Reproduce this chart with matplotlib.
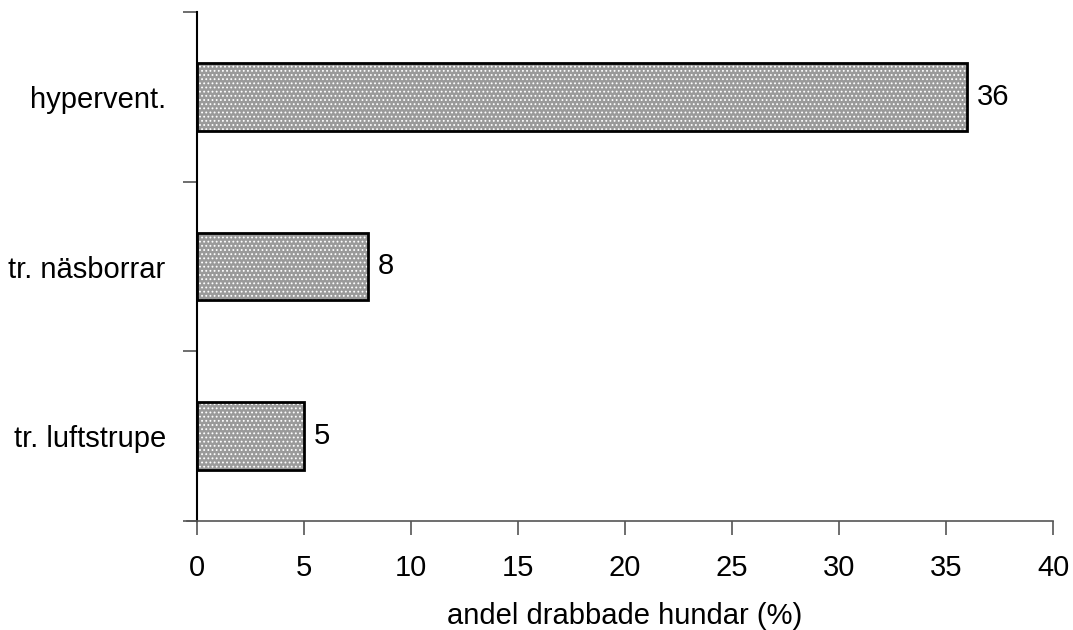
import matplotlib
matplotlib.use("Agg")
import matplotlib.pyplot as plt
import numpy as np

categories = ["hypervent.", "tr. näsborrar", "tr. luftstrupe"]
values = [36, 8, 5]
xticks = [0, 5, 10, 15, 20, 25, 30, 35, 40]
xlabel = "andel drabbade hundar (%)"

plt.rcParams['font.family'] = ['Liberation Sans', 'DejaVu Sans']
plt.rcParams['hatch.color'] = 'white'
plt.rcParams['hatch.linewidth'] = 0.8

fig = plt.figure(figsize=(10.73, 6.3), dpi=100)
ax = fig.add_axes([197/1073, 1 - 521/630, (1053-197)/1073, (521-12)/630])

y = np.arange(len(categories))
ax.barh(y, values, height=0.4, color='#9a9a9a', hatch='....', linewidth=0)
ax.barh(y, values, height=0.4, fill=False, edgecolor='black', linewidth=2)

for yi, v in zip(y, values):
    ax.text(v + 0.45, yi, str(v), va='center', ha='left', fontsize=21)

ax.set_xlim(0, 40)
ax.set_ylim(2.5, -0.5)
ax.set_xticks(xticks)
ax.set_xticklabels([str(t) for t in xticks], fontsize=21)
ax.set_yticks(y)
ax.set_yticklabels(categories, fontsize=21)
ax.tick_params(axis='y', length=0, pad=22.5)
ax.set_yticks([-0.5, 0.5, 1.5, 2.5], minor=True)
ax.tick_params(axis='y', which='minor', length=10, width=1.2, color='#555555')
ax.tick_params(axis='x', length=10, width=1.2, color='#555555', pad=14)
ax.set_xlabel(xlabel, fontsize=21, labelpad=14)

for s in ['top', 'right']:
    ax.spines[s].set_visible(False)
ax.spines['left'].set_linewidth(1.5)
ax.spines['bottom'].set_linewidth(1.2)
ax.spines['bottom'].set_color('#555555')
ax.spines['bottom'].set_bounds(-0.45, 40)

fig.savefig("out.png", dpi=100)
